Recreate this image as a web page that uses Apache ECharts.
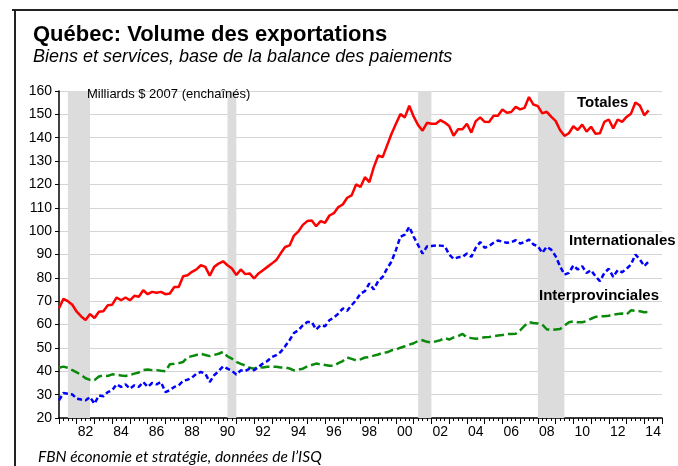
<!DOCTYPE html>
<html lang="fr">
<head>
  <meta charset="UTF-8">
  <title>Québec: Volume des exportations</title>
  <script src="https://cdn.jsdelivr.net/npm/echarts@6.0.0/dist/echarts.min.js"></script>
</head>
<body style="margin: 0; background: #fff">
<div id="container" style="width: 678px; height: 466px"></div>
<script type="text/javascript">
  // trimestres 1981T1 .. 2015T1 (axe), données 1981T1 .. 2014T2
  var firstYear = 1981;
  var lastYear = 2015;
  var quarters = [];
  for (var y = firstYear; y <= lastYear; y++) {
    for (var q = 1; q <= 4; q++) {
      if (y === lastYear && q > 1) break;
      quarters.push(y + 'T' + q);
    }
  }
  var labelYears = [1982, 1984, 1986, 1988, 1990, 1992, 1994, 1996, 1998,
    2000, 2002, 2004, 2006, 2008, 2010, 2012, 2014];

  var recessionStart = ['1981T3', '1990T3', '2001T2', '2008T1'];
  var recessionEnd = ['1982T4', '1991T1', '2002T1', '2009T3'];

  var totales = [
    67, 71, 70, 68.5,
    65.5, 63.5, 62, 64.5,
    62.8, 65.5, 65.7, 68.3,
    68.5, 71.6, 70.4, 71.6,
    70.4, 72.3, 71.9, 74.7,
    73, 74, 73.6, 74,
    73, 73.3, 76.1, 76.1,
    80.7, 81.1, 82.6, 83.6,
    85.4, 84.7, 80.9, 84.7,
    86.1, 87.1, 85.4, 84,
    81.2, 83.6, 81.6, 81.9,
    79.7, 81.9, 83.3, 84.7,
    86.1, 87.6, 90.5, 93.2,
    93.9, 98.1, 99.9, 102.7,
    104.3, 104.6, 102.1, 104.3,
    103.6, 106.7, 107.7, 110.3,
    111.4, 114.3, 115.3, 120,
    118.9, 123.1, 121, 127.4,
    132.4, 131.7, 136.7, 141.7,
    146, 150.1, 148.7, 153.7,
    149, 145.4, 143, 146.4,
    146, 146, 147.5, 146.5,
    145, 140.8, 143.6, 143.6,
    146, 142.2, 147.1, 148.7,
    146.8, 146.7, 149.4, 149.4,
    152.1, 150.7, 151, 153.2,
    152.1, 152.8, 157.4, 154.2,
    153.5, 150.4, 151.1, 149,
    147.2, 143.3, 140.8, 141.9,
    144.9, 143.3, 145.6, 142.6,
    144.7, 141.7, 141.9, 146.8,
    147.8, 144, 147.8, 146.8,
    148.9, 150.3, 155.1, 153.8,
    149.6, 151.7
  ];

  var internationales = [
    27.6, 30.7, 30.4, 30.1,
    28.3, 27.9, 27.6, 29,
    26.1, 29.7, 29.3, 31.1,
    31.9, 34.4, 33.3, 34.4,
    32.6, 34, 33.3, 35.4,
    33.3, 35, 34.4, 35.4,
    31.1, 31.9, 33.3, 34,
    35.9, 36.4, 37.3, 39,
    39.7, 39, 35.4, 38.3,
    40.1, 42.1, 41.1, 40.2,
    38.6, 40.4, 40.1, 41.1,
    40.4, 41.9, 43.3, 44.4,
    46.1, 46.9, 48.3, 50.7,
    53.3, 56.4, 57.6, 59.7,
    61.1, 61.1, 57.9, 59.7,
    59.3, 61.9, 63, 64.7,
    66.9, 65.9, 68.3, 70.4,
    73.3, 74.3, 77.6, 75,
    78.7, 80.4, 84, 87,
    92, 97.6, 98.5, 101.9,
    97.6, 94, 90.4, 93.5,
    93.6, 93.9, 93.8, 93.6,
    90, 88.1, 88.8, 89,
    90.4, 89, 92.9, 95.3,
    92.9, 93.6, 95, 96,
    95.5, 95, 95.3, 96.1,
    94.7, 95.3, 96.4, 94.3,
    93.6, 90.7, 93.3, 92.1,
    89.3, 85, 81.4, 82.1,
    85.3, 83.6, 85, 82.1,
    83.3, 80.7, 78.6, 82.1,
    83.9, 80.4, 83.3, 82.4,
    83.9, 85.7, 90, 87.9,
    85, 87.1
  ];

  var interprovinciales = [
    41.5, 42, 41.5, 40.5,
    39.5, 38.5, 37, 36.3,
    36.2, 37.8, 38.2, 38,
    38.7, 38.6, 38.2, 38,
    38.5, 39, 39.5, 40.5,
    40.8, 40.5, 40.5, 40.2,
    40, 43, 43.2, 43.5,
    44, 46, 46.5, 47,
    47.5, 47, 46.5, 47,
    47.5, 48.3, 46.4, 45.4,
    44, 43.2, 42.5, 41.5,
    41.1, 41.9, 41.6, 41.9,
    41.9, 41.9, 41.6, 41.6,
    41.2, 40.4, 40.7, 41.1,
    42.1, 42.7, 43.3, 43,
    42.7, 42.4, 42.4, 43.5,
    44.4, 45.9, 45.3, 44.7,
    45.1, 45.9, 46.1, 46.7,
    47.2, 47.9, 48.1, 49,
    49.3, 50.1, 50.7, 51.4,
    52, 53, 53.3, 52.6,
    52.3, 52.8, 53.3, 54.3,
    53.6, 54.5, 55, 56,
    54.5, 54.2, 53.9, 54.2,
    54.6, 54.7, 55, 55.3,
    55.5, 55.9, 56, 56.1,
    57.5, 59.5, 61, 60.7,
    60.5, 60, 58, 57.6,
    57.9, 58.1, 59.5, 61,
    61.4, 61, 61, 61.5,
    62.5, 63.3, 63.6, 63.6,
    63.8, 64.3, 64.5, 64.7,
    64.3, 66.1, 65.9, 65.7,
    65.3, 65.4
  ];

  var font = 'Liberation Sans, Arial, sans-serif';

  function isLabel(index) {
    var name = quarters[index];
    return name.slice(4) === 'T3' && labelYears.indexOf(+name.slice(0, 4)) >= 0;
  }

  var recessions = recessionStart.map(function (s, i) {
    return [{ xAxis: s }, { xAxis: recessionEnd[i] }];
  });

  var dom = document.getElementById('container');
  var myChart = echarts.init(dom, null, { renderer: 'canvas' });

  var option = {
    animation: false,
    backgroundColor: '#fff',
    grid: { left: 59, right: 16, top: 91, bottom: 48 },
    xAxis: [
      {
        type: 'category',
        data: quarters,
        boundaryGap: false,
        axisLine: { lineStyle: { color: '#000', width: 1.5 } },
        axisTick: { interval: 0, length: 3, lineStyle: { color: '#000' } },
        axisLabel: {
          interval: function (index) { return isLabel(index); },
          formatter: function (v) { return v.slice(2, 4); },
          color: '#000', fontFamily: font, fontSize: 14, margin: 7
        },
        splitLine: { show: false }
      },
      {
        // graduations annuelles plus longues
        type: 'category',
        data: quarters,
        boundaryGap: false,
        position: 'bottom',
        axisLine: { show: false },
        axisTick: {
          interval: function (index) { return index % 4 === 0; },
          length: 6, lineStyle: { color: '#000' }
        },
        axisLabel: { show: false },
        splitLine: { show: false }
      }
    ],
    yAxis: {
      type: 'value',
      min: 20,
      max: 160,
      interval: 10,
      axisLine: { show: true, lineStyle: { color: '#000', width: 1.5 } },
      axisTick: { show: true, length: 4, lineStyle: { color: '#000' } },
      axisLabel: { color: '#000', fontFamily: font, fontSize: 14, margin: 7 },
      splitLine: { lineStyle: { color: '#d4d4d4', width: 1 } }
    },
    series: [
      {
        name: 'Récessions',
        type: 'line',
        data: [],
        z: 1,
        silent: true,
        markArea: {
          silent: true,
          itemStyle: { color: '#dcdcdc' },
          data: recessions
        }
      },
      {
        name: 'Interprovinciales',
        type: 'line',
        data: interprovinciales,
        showSymbol: false,
        z: 3,
        lineStyle: { color: '#0a8a0a', width: 2.5, type: [9, 4] }
      },
      {
        name: 'Internationales',
        type: 'line',
        data: internationales,
        showSymbol: false,
        z: 3,
        lineStyle: { color: '#0000ff', width: 2.5, type: [5, 3] }
      },
      {
        name: 'Totales',
        type: 'line',
        data: totales,
        showSymbol: false,
        z: 4,
        lineStyle: { color: '#ff0000', width: 2.5 }
      }
    ],
    graphic: [
      { type: 'line', shape: { x1: 12, y1: 10, x2: 678, y2: 10 }, style: { stroke: '#222', lineWidth: 2 } },
      { type: 'line', shape: { x1: 15, y1: 10, x2: 15, y2: 466 }, style: { stroke: '#222', lineWidth: 2 } },
      {
        type: 'text', left: 33, top: 24,
        style: { text: 'Québec: Volume des exportations', font: 'bold 22px ' + font, fill: '#000' }
      },
      {
        type: 'text', left: 33, top: 48,
        style: { text: 'Biens et services, base de la balance des paiements', font: 'italic 18px ' + font, fill: '#000' }
      },
      {
        type: 'text', left: 87, top: 88, z: 10,
        style: { text: 'Milliards $ 2007 (enchaînés)', font: '13px ' + font, fill: '#000' }
      },
      {
        type: 'text', left: 577, top: 95, z: 10,
        style: { text: 'Totales', font: 'bold 15px ' + font, fill: '#000' }
      },
      {
        type: 'text', left: 569, top: 233, z: 10,
        style: { text: 'Internationales', font: 'bold 15px ' + font, fill: '#000' }
      },
      {
        type: 'text', left: 539, top: 288, z: 10,
        style: { text: 'Interprovinciales', font: 'bold 15px ' + font, fill: '#000' }
      },
      {
        type: 'text', left: 38, top: 449,
        style: { text: 'FBN économie et stratégie, données de l\u2019ISQ', font: 'italic 15.5px Lato, sans-serif', fill: '#000' }
      }
    ]
  };

  myChart.setOption(option);
  window.addEventListener('resize', myChart.resize);
</script>
</body>
</html>
